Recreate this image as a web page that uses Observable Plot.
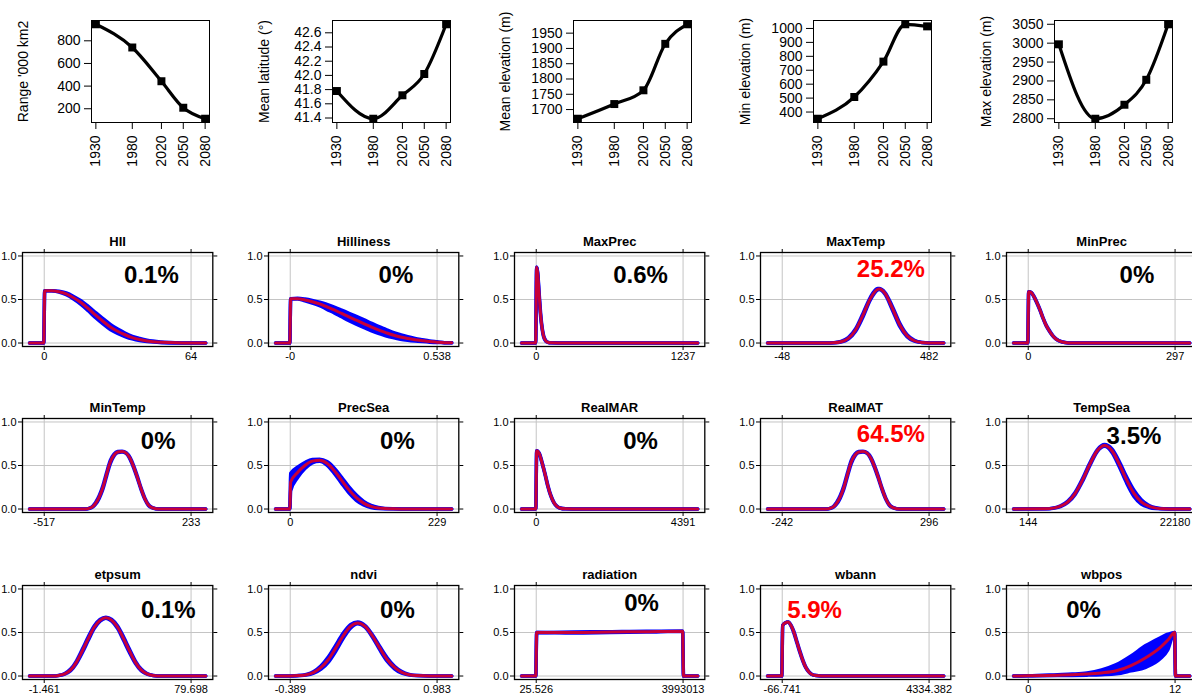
<!DOCTYPE html>
<html><head><meta charset="utf-8">
<script src="https://cdn.jsdelivr.net/npm/d3@7"></script>
<script src="https://cdn.jsdelivr.net/npm/@observablehq/plot@0.6"></script>
<style>
body{margin:0;background:#fff;overflow:hidden;font-family:"Liberation Sans",Arial,sans-serif}
#root{position:relative;width:1192px;height:697px;overflow:hidden;background:#fff}
#root svg{position:absolute;overflow:visible;background:transparent}
</style></head>
<body><div id="root"></div>
<script>
// ---------- top row data ----------
const years = [1930, 1980, 2020, 2050, 2080];
const rangeKm2 = [946, 741, 443, 209, 112];
const meanLat = [41.78, 41.39, 41.72, 42.02, 42.72];
const meanElev = [1670, 1718, 1763, 1915, 1979];
const minElev = [352, 508, 762, 1030, 1015];
const maxElev = [2997, 2800, 2837, 2903, 3050];
const topLabels = ["Range '000 km2", "Mean latitude (°)", "Mean elevation (m)", "Min elevation (m)", "Max elevation (m)"];
const topTicks = [
  [200, 400, 600, 800],
  [41.4, 41.6, 41.8, 42.0, 42.2, 42.4, 42.6],
  [1700, 1750, 1800, 1850, 1900, 1950],
  [400, 500, 600, 700, 800, 900, 1000],
  [2800, 2850, 2900, 2950, 3000, 3050]
];

// ---------- response panels data ----------
const panelNames = ["HII", "Hilliness", "MaxPrec", "MaxTemp", "MinPrec",
  "MinTemp", "PrecSea", "RealMAR", "RealMAT", "TempSea",
  "etpsum", "ndvi", "radiation", "wbann", "wbpos"];
const panelPct = ["0.1%", "0%", "0.6%", "25.2%", "0%",
  "0%", "0%", "0%", "64.5%", "3.5%",
  "0.1%", "0%", "0%", "5.9%", "0%"];
const panelPctRed = [false, false, false, true, false,
  false, false, false, true, false,
  false, false, false, true, false];
const panelMin = ["0", "-0", "0", "-48", "0", "-517", "0", "0", "-242", "144", "-1.461", "-0.389", "25.526", "-66.741", "0"];
const panelMax = ["64", "0.538", "1237", "482", "297", "233", "229", "4391", "296", "22180", "79.698", "0.983", "3993013", "4334.382", "12"];
const pctT = [0.73, 0.72, 0.71, 0.74, 0.74, 0.776, 0.73, 0.71, 0.74, 0.72, 0.845, 0.73, 0.717, 0.22, 0.377];
const pctV = [0.775, 0.775, 0.775, 0.85, 0.775, 0.78, 0.78, 0.78, 0.86, 0.835, 0.76, 0.76, 0.837, 0.76, 0.76];

// each point: [t (0 = min, 1 = max), mean response, band below, band above]
const hiiCurve = [[-0.1,0,0],[-0.003,0,0],[0.003,0.6,0],[0.05,0.6,0],[0.1,0.59,0.005],[0.15,0.565,0.01],[0.2,0.52,0.015],[0.25,0.465,0.02],[0.3,0.395,0.025],[0.35,0.32,0.03],[0.4,0.25,0.03],[0.45,0.185,0.03],[0.5,0.135,0.025],[0.55,0.095,0.02],[0.6,0.062,0.015],[0.65,0.04,0.012],[0.7,0.024,0.008],[0.8,0.008,0.004],[0.9,0.002,0.002],[1.0,0.001,0],[1.1,0,0]];
const hillCurve = [[-0.1,0,0],[-0.003,0,0],[0.003,0.51,0],[0.05,0.51,0.003],[0.1,0.495,0.01],[0.15,0.475,0.015],[0.2,0.45,0.02],[0.25,0.415,0.028],[0.3,0.38,0.033],[0.35,0.34,0.038],[0.4,0.3,0.042],[0.45,0.262,0.045],[0.5,0.224,0.045],[0.55,0.186,0.043],[0.6,0.15,0.04],[0.65,0.12,0.036],[0.7,0.092,0.03],[0.75,0.07,0.026],[0.8,0.052,0.02],[0.85,0.038,0.015],[0.9,0.027,0.011],[0.95,0.017,0.007],[1.0,0.01,0.004],[1.05,0.004,0],[1.1,0.002,0]];
const maxPrecCurve = [[-0.1,0,0],[-0.004,0,0],[0.003,0.87,0],[0.01,0.8,0.01],[0.02,0.55,0.02],[0.03,0.32,0.02],[0.04,0.17,0.01],[0.05,0.08,0.008],[0.065,0.025,0.004],[0.08,0.008,0],[0.1,0.002,0],[0.2,0,0],[1.1,0,0]];
const maxTempCurve = [[-0.1,0,0],[0.3,0,0],[0.35,0.003,0],[0.4,0.015,0.003],[0.45,0.054,0.008],[0.5,0.15,0.015],[0.55,0.32,0.02],[0.6,0.51,0.015],[0.65,0.617,0.008],[0.66,0.62,0.005],[0.7,0.57,0.01],[0.75,0.4,0.02],[0.8,0.21,0.02],[0.85,0.084,0.012],[0.9,0.026,0.005],[0.95,0.006,0],[1.0,0.001,0],[1.1,0,0]];
const minPrecCurve = [[-0.1,0,0],[-0.003,0,0],[0.003,0.59,0],[0.02,0.58,0],[0.04,0.53,0.005],[0.06,0.46,0.005],[0.08,0.38,0.005],[0.1,0.29,0.005],[0.12,0.21,0.005],[0.14,0.15,0.005],[0.16,0.1,0.004],[0.18,0.06,0.003],[0.2,0.035,0],[0.22,0.018,0],[0.25,0.006,0],[0.3,0,0],[1.1,0,0]];
const minTempCurve = [[-0.1,0,0],[0.28,0,0],[0.3,0.005,0],[0.33,0.028,0.005],[0.35,0.065,0.01],[0.375,0.14,0.015],[0.4,0.25,0.02],[0.425,0.4,0.02],[0.45,0.54,0.018],[0.475,0.62,0.01],[0.5,0.655,0.005],[0.53,0.66,0.004],[0.56,0.64,0.005],[0.585,0.58,0.01],[0.61,0.48,0.012],[0.635,0.36,0.012],[0.66,0.23,0.01],[0.685,0.12,0.008],[0.71,0.045,0.005],[0.735,0.015,0.002],[0.76,0.004,0],[0.8,0,0],[1.1,0,0]];
const precSeaCurve = [[-0.1,0,0],[-0.003,0,0],[0.003,0.31,0.1],[0.05,0.42,0.06],[0.1,0.5,0.035],[0.15,0.55,0.02],[0.2,0.56,0.012],[0.25,0.525,0.02],[0.3,0.44,0.03],[0.35,0.33,0.035],[0.4,0.22,0.035],[0.45,0.13,0.03],[0.5,0.068,0.02],[0.55,0.03,0.012],[0.6,0.012,0.006],[0.7,0.002,0],[0.8,0,0],[1.1,0,0]];
const realMARCurve = [[-0.1,0,0],[-0.003,0,0],[0.003,0.67,0],[0.02,0.64,0.005],[0.04,0.53,0.008],[0.06,0.4,0.008],[0.08,0.26,0.008],[0.1,0.15,0.006],[0.12,0.075,0.004],[0.14,0.032,0.002],[0.16,0.012,0],[0.2,0.002,0],[0.3,0,0],[1.1,0,0]];
const realMATCurve = [[-0.1,0,0],[0.3,0,0],[0.32,0.005,0],[0.35,0.028,0.005],[0.37,0.065,0.01],[0.395,0.14,0.015],[0.42,0.25,0.02],[0.445,0.4,0.02],[0.47,0.54,0.018],[0.495,0.62,0.01],[0.52,0.655,0.005],[0.55,0.66,0.004],[0.58,0.64,0.005],[0.605,0.58,0.01],[0.63,0.48,0.012],[0.655,0.36,0.012],[0.68,0.23,0.01],[0.705,0.12,0.008],[0.73,0.045,0.005],[0.755,0.015,0.002],[0.78,0.004,0],[0.82,0,0],[1.1,0,0]];
const tempSeaCurve = [[-0.1,0,0],[0.12,0.002,0],[0.17,0.01,0],[0.22,0.032,0.004],[0.27,0.083,0.008],[0.32,0.18,0.012],[0.37,0.334,0.015],[0.42,0.516,0.015],[0.47,0.67,0.01],[0.52,0.73,0.01],[0.57,0.67,0.02],[0.62,0.516,0.03],[0.67,0.334,0.035],[0.72,0.18,0.035],[0.77,0.083,0.025],[0.82,0.032,0.012],[0.87,0.01,0.005],[0.92,0.002,0],[1.0,0,0],[1.1,0,0]];
const etpsumCurve = [[-0.1,0,0],[0.06,0,0],[0.1,0.007,0],[0.14,0.025,0.004],[0.18,0.07,0.01],[0.22,0.16,0.015],[0.26,0.29,0.02],[0.3,0.43,0.02],[0.34,0.56,0.015],[0.38,0.64,0.01],[0.42,0.67,0.005],[0.46,0.64,0.01],[0.5,0.56,0.015],[0.54,0.43,0.02],[0.58,0.29,0.02],[0.62,0.16,0.015],[0.66,0.07,0.01],[0.7,0.025,0.004],[0.74,0.007,0],[0.8,0,0],[1.1,0,0]];
const ndviCurve = [[-0.1,0,0],[0.0,0,0],[0.06,0.005,0],[0.11,0.015,0.004],[0.16,0.042,0.01],[0.21,0.098,0.02],[0.26,0.19,0.03],[0.31,0.32,0.035],[0.36,0.46,0.03],[0.41,0.57,0.02],[0.46,0.61,0.01],[0.51,0.57,0.01],[0.56,0.46,0.015],[0.61,0.32,0.02],[0.66,0.19,0.02],[0.71,0.098,0.015],[0.76,0.042,0.01],[0.81,0.015,0.004],[0.86,0.005,0],[0.95,0,0],[1.1,0,0]];
const radiationCurve = [[-0.1,0,0],[-0.003,0,0],[0.003,0.5,0],[0.25,0.5,0.005],[0.5,0.505,0.005],[0.75,0.51,0.005],[0.997,0.515,0],[1.003,0,0],[1.1,0,0]];
const wbannCurve = [[-0.1,0,0],[-0.003,0,0],[0.003,0.58,0],[0.02,0.61,0],[0.04,0.62,0],[0.06,0.58,0.005],[0.08,0.5,0.01],[0.1,0.39,0.01],[0.12,0.28,0.01],[0.14,0.18,0.008],[0.16,0.1,0.005],[0.18,0.05,0.003],[0.2,0.02,0],[0.23,0.006,0],[0.3,0,0],[1.1,0,0]];
const wbposCurve = [[-0.1,0,0],[0.0,0.002,0],[0.2,0.01,0.005,0.005],[0.3,0.014,0.007,0.008],[0.4,0.022,0.012,0.013],[0.5,0.036,0.021,0.034],[0.6,0.06,0.035,0.07],[0.7,0.12,0.06,0.11],[0.8,0.21,0.11,0.14],[0.9,0.33,0.13,0.11],[0.95,0.41,0.11,0.07],[0.997,0.5,0,0],[1.003,0,0],[1.1,0,0]];
const panelCurves = [hiiCurve, hillCurve, maxPrecCurve, maxTempCurve, minPrecCurve,
  minTempCurve, precSeaCurve, realMARCurve, realMATCurve, tempSeaCurve,
  etpsumCurve, ndviCurve, radiationCurve, wbannCurve, wbposCurve];

// ---------- drawing ----------
const root = document.getElementById("root");
const FONT = "'Liberation Sans', Arial, Helvetica, sans-serif";
const STYLE = {fontFamily: FONT, background: "transparent", overflow: "visible", color: "#000"};
function place(svg, left, top) {
  svg.style.position = "absolute";
  svg.style.left = left + "px";
  svg.style.top = top + "px";
  root.appendChild(svg);
}

const topSeries = [rangeKm2, meanLat, meanElev, minElev, maxElev];
const topFrameLeft = [90.5, 332, 572.5, 813, 1054.3];
topSeries.forEach((vals, i) => {
  const data = years.map((year, k) => ({year, v: vals[k]}));
  const [mn, mx] = d3.extent(vals);
  const pad = (mx - mn) * 0.04;
  const fmt = i === 1 ? d3.format(".1f") : d3.format("d");
  const svg = Plot.plot({
    width: 241, height: 190, marginLeft: 90, marginRight: 33, marginTop: 20, marginBottom: 68,
    style: STYLE,
    x: {domain: [1924, 2086], label: null},
    y: {domain: [mn - pad, mx + pad], label: null},
    marks: [
      Plot.frame({stroke: "#000", strokeWidth: 1}),
      Plot.axisX({ticks: years, tickFormat: d => String(d), tickRotate: -90, tickSize: 7, tickPadding: 6, fontSize: 14, label: null}),
      Plot.axisY({ticks: topTicks[i], tickFormat: fmt, tickSize: 7, tickPadding: 4, fontSize: 14, label: null}),
      Plot.text([topLabels[i]], {text: d => d, frameAnchor: "left", dx: -68, rotate: -90, textAnchor: "middle", lineAnchor: "middle", fontSize: 14, fill: "#000"}),
      Plot.line(data, {x: "year", y: "v", curve: "monotone-x", stroke: "#000", strokeWidth: 3.2}),
      Plot.dot(data, {x: "year", y: "v", symbol: "square", fill: "#000", stroke: "none", r: 4.5})
    ]
  });
  place(svg, topFrameLeft[i] - 90, 0);
});

const rowTop = [251.7, 418.3, 585];
const colLeft0 = 21.7, colStep = 246, frameW = 190.3, frameH = 94;
const SM_ML = 22, SM_MT = 30, SM_W = 246, SM_H = 166;
const grey = "#c4c4c4";
panelNames.forEach((name, k) => {
  const row = Math.floor(k / 5), col = k % 5;
  const rows = panelCurves[k].map(([t, m, d, u]) => ({t, m, lo: Math.max(0, m - d), hi: m + (u === undefined ? d : u)}));
  const minL = panelMin[k], maxL = panelMax[k];
  const svg = Plot.plot({
    width: SM_W, height: SM_H,
    marginLeft: SM_ML, marginTop: SM_MT, marginRight: SM_W - SM_ML - frameW, marginBottom: SM_H - SM_MT - frameH,
    style: STYLE,
    x: {domain: [-0.148, 1.148], label: null},
    y: {domain: [-0.04, 1.04], label: null},
    marks: [
      Plot.gridX({ticks: [0, 1], stroke: grey, strokeOpacity: 1, strokeWidth: 1}),
      Plot.gridY({ticks: [0, 0.5, 1], stroke: grey, strokeOpacity: 1, strokeWidth: 1}),
      Plot.areaY(rows, {x: "t", y1: "lo", y2: "hi", fill: "#0000ff", curve: "monotone-x"}),
      Plot.line(rows, {x: "t", y: "lo", stroke: "#0000ff", strokeWidth: 3.5, curve: "monotone-x"}),
      Plot.line(rows, {x: "t", y: "hi", stroke: "#0000ff", strokeWidth: 3.5, curve: "monotone-x"}),
      Plot.line(rows, {x: "t", y: "m", stroke: "#ff0000", strokeWidth: 3, strokeOpacity: 0.78, curve: "monotone-x"}),
      Plot.frame({stroke: "#000", strokeWidth: 1.3}),
      Plot.axisY({ticks: [0, 0.5, 1], tickFormat: d3.format(".1f"), tickSize: 4, tickPadding: 2, fontSize: 11, label: null}),
      Plot.axisY({anchor: "right", ticks: [0, 0.5, 1], tickFormat: () => "", tickSize: 4, label: null}),
      Plot.axisX({ticks: [0, 1], tickFormat: d => (d === 0 ? minL : maxL), tickSize: 4, tickPadding: 2, fontSize: 11, label: null}),
      Plot.axisX({anchor: "top", ticks: [0, 1], tickFormat: () => "", tickSize: 4, label: null}),
      Plot.text([name], {text: d => d, frameAnchor: "top", lineAnchor: "bottom", dy: -6.5, fontSize: 13, fontWeight: "bold", fill: "#000"}),
      Plot.text([panelPct[k]], {text: d => d, x: () => pctT[k], y: () => pctV[k], fontSize: 24, fontWeight: "bold", fill: panelPctRed[k] ? "#ff0000" : "#000", lineAnchor: "middle"})
    ]
  });
  place(svg, colLeft0 + colStep * col - SM_ML, rowTop[row] - SM_MT);
});
</script>
</body></html>
